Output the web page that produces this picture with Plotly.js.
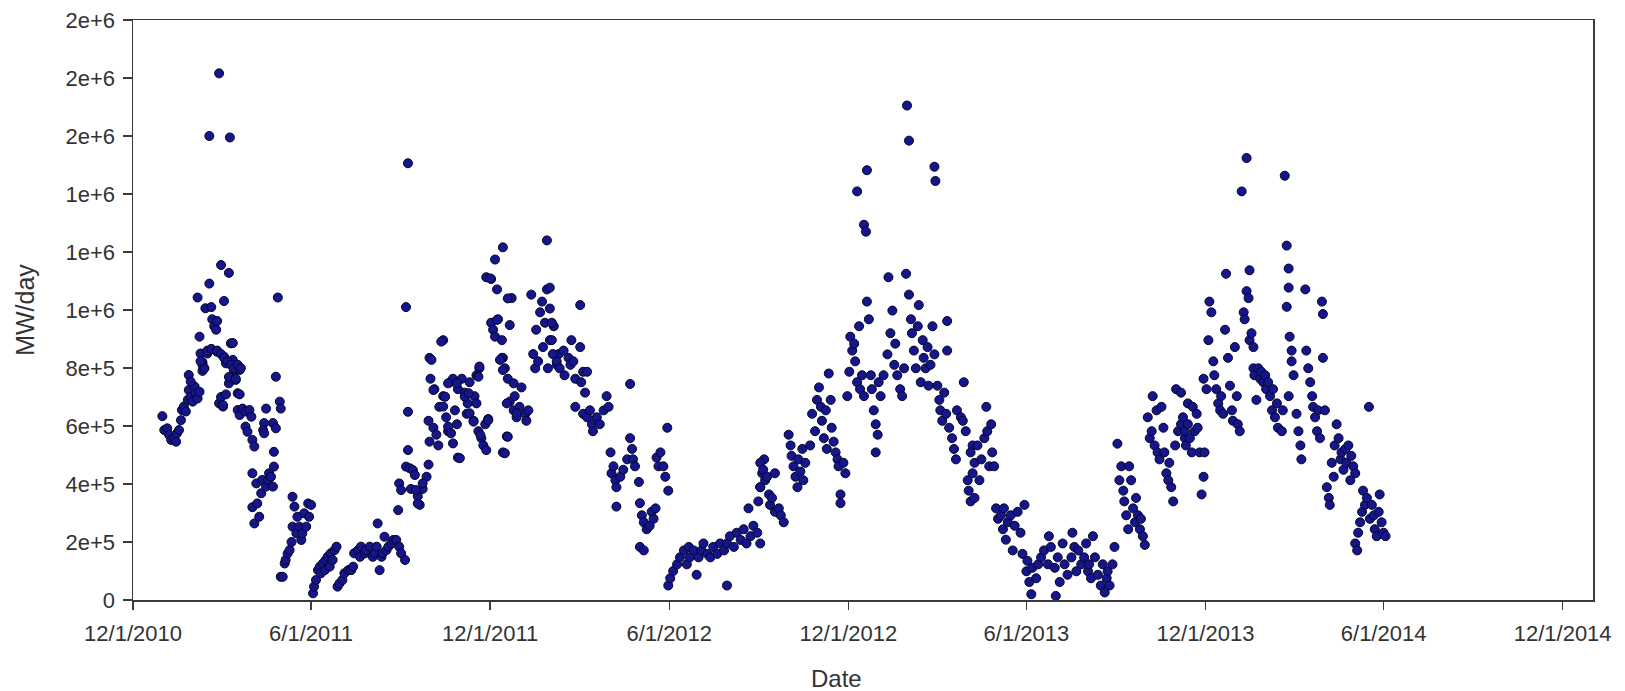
<!DOCTYPE html>
<html>
<head>
<meta charset="utf-8">
<script src="https://cdn.plot.ly/plotly-3.0.1.min.js"></script>
<style>
  html, body { margin: 0; padding: 0; background: #ffffff; }
  #chart { width: 1625px; height: 691px; }
</style>
</head>
<body>
<div id="chart"></div>
<script>
// Day offsets are counted from the axis origin date 12/1/2010; values are MW/day.
const START_DATE = '2010-12-01';

// Winter/spring 2011 through summer 2011
const daysA = [30,32,35,37,39,42,44,45,47,49,50,52,54,56,57,59,61,63,64,57,59,66,68,69,71,72,71,76,78,86,88,92,90,93,95,98,100,102,103,105,107,109,110,107,109,112,115,119,121,115,117,122,124,122,126,122,127,124,129,131,132,136,138,139,141,143,144,136,134,133,134,143,146,144,146,150,151,151,153,155,156,158,160,162,163,165,163,167,168,170,172,173,175,177,179,180,182,184,185,187,189,191,192,194,196,197,199,201,202,204,206,208,209,211,214,216,220,223,225,226,230,232,233,237,238,242,245,247,249,250,252,254,255,257,259,261,264,266,269,271,272,274,278,272,274,281,281,279,283,286];
const valsA = [6.34e5,5.86e5,5.92e5,5.69e5,5.52e5,5.57e5,5.46e5,5.75e5,5.86e5,6.2e5,6.55e5,6.67e5,6.5e5,6.9e5,7.24e5,7.0e5,6.84e5,7.36e5,7.13e5,7.76e5,7.53e5,6.95e5,7.18e5,8.5e5,8.2e5,8.0e5,7.9e5,8.5e5,8.6e5,8.56e5,6.78e5,6.67e5,7.0e5,8.39e5,8.16e5,7.47e5,8.85e5,8.28e5,7.93e5,7.59e5,7.13e5,7.93e5,7.99e5,6.55e5,6.38e5,6.6e5,6.5e5,6.55e5,6.32e5,5.98e5,5.8e5,5.52e5,5.29e5,4.37e5,4.02e5,3.2e5,3.33e5,2.64e5,2.87e5,3.68e5,4.14e5,3.91e5,4.14e5,4.37e5,4.25e5,3.91e5,4.6e5,6.6e5,6.1e5,5.86e5,5.75e5,6.1e5,5.92e5,5.11e5,7.7e5,6.84e5,6.6e5,0.8e5,0.8e5,1.26e5,1.38e5,1.6e5,1.72e5,2.0e5,3.56e5,3.22e5,2.53e5,2.3e5,2.87e5,2.53e5,2.07e5,2.3e5,2.99e5,2.53e5,3.33e5,2.87e5,3.28e5,0.23e5,0.46e5,0.69e5,1.03e5,1.15e5,0.92e5,1.26e5,1.03e5,1.38e5,1.49e5,1.15e5,1.61e5,1.38e5,1.72e5,1.84e5,0.46e5,0.57e5,0.69e5,0.92e5,1.03e5,1.03e5,1.15e5,1.61e5,1.72e5,1.49e5,1.84e5,1.61e5,1.72e5,1.84e5,1.49e5,1.61e5,1.84e5,2.64e5,1.03e5,1.49e5,1.61e5,2.18e5,1.72e5,1.84e5,1.95e5,2.07e5,2.07e5,3.1e5,1.84e5,1.61e5,1.38e5,4.02e5,3.79e5,6.49e5,5.17e5,4.6e5,4.54e5,4.48e5];

// High readings of early 2011
const daysB = [88,78,99,90,98,78,66,148,74,93,80,81,83,85,86,68,102,76,80,71,73,69,86,90,93,97,100,103,107,110,98,105,95,92,109];
const valsB = [18.16e5,16.0e5,15.95e5,11.55e5,11.28e5,10.91e5,10.43e5,10.43e5,10.06e5,10.31e5,10.1e5,9.68e5,9.44e5,9.32e5,9.62e5,9.08e5,8.86e5,8.6e5,8.66e5,8.11e5,7.99e5,8.23e5,8.6e5,8.48e5,8.35e5,8.23e5,8.11e5,7.99e5,8.11e5,7.99e5,7.69e5,7.63e5,7.09e5,6.72e5,7.09e5];

// Autumn 2011 to early 2012
const daysC = [279,281,284,288,291,293,296,300,302,303,303,304,308,317,302,307,310,312,313,317,320,322,324,327,329,331,332,332,336,339,341,342,344,348,349,351,353,354,356,358,360,363,361,366,370,372,378,366,368,370,373,377,378,380,383,377,378,382,385,387,389,390,392,395,397,401,402,404,407,409,411,412,414,416,418,419,421,423,423,424,426,430,433,435,
  289,291,296,305,307,315,317,319,322,322,325,327,331,334,339,343,344,348,351,353,354,355,361,363,365,372,375,378,383,385,382,383,380,389,392];
const valsC = [10.1e5,15.06e5,3.83e5,4.31e5,3.58e5,3.28e5,3.83e5,4.25e5,4.67e5,5.46e5,8.35e5,7.63e5,7.27e5,8.96e5,6.18e5,5.94e5,5.7e5,5.33e5,6.66e5,7.03e5,6.3e5,5.82e5,7.51e5,7.63e5,6.54e5,6.06e5,4.91e5,7.27e5,7.63e5,7.15e5,6.42e5,6.78e5,7.51e5,6.18e5,7.03e5,7.75e5,5.82e5,7.99e5,5.58e5,5.33e5,6.06e5,6.24e5,11.13e5,11.07e5,11.74e5,10.71e5,12.16e5,9.56e5,9.32e5,9.08e5,9.68e5,8.96e5,8.35e5,7.99e5,7.63e5,8.35e5,5.09e5,5.64e5,6.84e5,10.41e5,6.54e5,7.03e5,6.3e5,6.66e5,7.33e5,6.42e5,6.18e5,6.54e5,10.53e5,8.48e5,7.99e5,9.32e5,8.23e5,9.92e5,10.29e5,8.72e5,9.56e5,12.4e5,10.71e5,7.99e5,8.96e5,9.44e5,8.11e5,8.48e5,
  3.79e5,3.33e5,4.02e5,8.28e5,7.24e5,8.91e5,6.67e5,7.01e5,7.47e5,5.98e5,5.75e5,5.4e5,7.47e5,4.89e5,7.01e5,7.13e5,6.44e5,6.15e5,6.78e5,7.7e5,8.05e5,5.69e5,5.17e5,6.2e5,11.09e5,9.66e5,8.28e5,7.93e5,10.4e5,9.48e5,6.78e5,5.63e5,5.06e5,7.47e5,6.44e5];

// Spring and summer 2012
const daysD = [426,426,428,428,429,433,436,440,441,445,447,448,450,452,457,457,458,460,462,464,452,460,464,467,469,470,474,477,481,484,486,508,488,489,491,493,494,494,498,501,505,508,510,511,513,517,518,520,522,525,528,530,532,534,518,522,535,537,539,542,544,546,547,547,549,552,556,559,563,566,568,569,573,576,578,581,583,587,590,593,597,600,604,607,607,610,614,617,621,624,627,629,631,634,638,639,641,643,645,646];
const valsD = [10.77e5,10.05e5,9.56e5,8.96e5,8.48e5,8.23e5,7.99e5,8.6e5,7.75e5,8.35e5,8.11e5,8.96e5,8.23e5,7.63e5,10.17e5,8.72e5,7.51e5,7.87e5,7.15e5,7.87e5,6.66e5,6.42e5,6.3e5,6.54e5,6.06e5,5.82e5,6.3e5,6.06e5,6.54e5,7.03e5,6.66e5,7.45e5,5.09e5,4.37e5,4.61e5,4.13e5,3.89e5,3.22e5,4.25e5,4.49e5,4.85e5,5.58e5,5.21e5,4.85e5,4.61e5,4.07e5,3.34e5,2.92e5,2.68e5,2.44e5,2.56e5,3.04e5,2.8e5,3.16e5,1.83e5,1.71e5,4.91e5,4.61e5,5.09e5,4.61e5,4.25e5,5.94e5,3.77e5,0.5e5,0.75e5,1.0e5,1.23e5,1.47e5,1.71e5,1.23e5,1.83e5,1.47e5,1.71e5,0.87e5,1.47e5,1.71e5,1.95e5,1.59e5,1.47e5,1.83e5,1.59e5,1.95e5,1.71e5,0.5e5,1.95e5,2.2e5,1.83e5,2.32e5,2.07e5,2.44e5,1.95e5,3.16e5,2.2e5,2.56e5,2.32e5,3.4e5,3.89e5,4.37e5,4.85e5,4.13e5];

// Autumn 2012 to spring 2013
const daysE = [641,641,641,644,648,650,651,653,656,660,662,665,656,670,672,673,675,677,679,680,682,684,685,687,692,694,697,699,701,703,704,706,708,709,711,713,714,716,718,720,721,723,723,726,728,730,732,733,735,737,738,740,742,743,745,747,740,747,749,750,750,752,754,755,757,759,761,759,762,764,767,771,772,774,776,778,779,781,784,786,788,790,791,793,793,795,796,798,800,802,803,805,807,808,810,812,813,815,817,819,820,819,822,824,825,827,829,831,832,832,834,837,839,841,842,846,848,849,851,853,854,856,858,860,863,865];
const valsE = [4.73e5,3.89e5,1.95e5,4.49e5,4.25e5,3.64e5,3.28e5,3.52e5,3.04e5,3.16e5,2.92e5,2.68e5,4.37e5,5.7e5,5.33e5,4.97e5,4.61e5,4.25e5,3.89e5,4.85e5,4.43e5,5.21e5,4.13e5,4.73e5,5.33e5,6.42e5,5.82e5,6.9e5,7.33e5,6.66e5,6.18e5,5.58e5,6.54e5,5.21e5,7.81e5,6.9e5,5.94e5,5.46e5,5.09e5,4.85e5,4.61e5,3.64e5,3.34e5,4.73e5,4.37e5,7.03e5,7.87e5,9.08e5,8.6e5,8.84e5,8.23e5,7.51e5,9.44e5,7.27e5,7.75e5,7.03e5,14.09e5,12.94e5,12.7e5,14.82e5,10.29e5,9.68e5,7.75e5,7.27e5,6.54e5,6.06e5,5.7e5,5.09e5,7.51e5,7.03e5,7.75e5,8.47e5,11.13e5,9.2e5,9.98e5,8.11e5,8.84e5,7.75e5,7.27e5,7.03e5,7.99e5,11.25e5,17.05e5,15.84e5,10.53e5,9.68e5,9.2e5,8.6e5,7.99e5,9.44e5,10.17e5,7.51e5,8.96e5,8.35e5,7.99e5,8.72e5,7.39e5,8.11e5,9.44e5,14.94e5,14.45e5,8.47e5,7.39e5,6.9e5,6.54e5,6.18e5,7.15e5,6.42e5,9.62e5,8.6e5,5.94e5,5.58e5,5.21e5,4.85e5,6.54e5,6.3e5,6.18e5,7.51e5,5.82e5,4.13e5,3.77e5,3.4e5,5.33e5,4.73e5,5.33e5,4.13e5];

// Spring 2013 to autumn 2013
const daysF = [856,858,860,867,870,872,873,875,877,878,880,882,884,887,889,890,892,894,897,899,901,904,907,909,911,913,914,916,918,919,923,925,928,931,935,936,938,942,943,945,947,950,952,955,959,960,962,964,966,969,972,974,976,977,979,981,983,986,989,991,993,995,996,998,1001,1003,1006,1008,1010,1012,1013,1015,1017,1018,1020,1022,1024,1025,1027,1029,1030,1032,1034,1037,1039,1041,1042,1044,1046,1047,1049,1051,1053,1054,1056,1058,1059,1061,1063,1065,1066,1068,1071,1075,1078];
const valsF = [5.09e5,4.37e5,3.52e5,4.85e5,5.58e5,6.66e5,5.82e5,4.61e5,6.06e5,5.09e5,4.61e5,3.16e5,2.8e5,2.92e5,2.44e5,3.16e5,2.08e5,2.68e5,2.92e5,1.71e5,2.56e5,3.04e5,2.32e5,1.59e5,3.28e5,0.99e5,1.35e5,0.62e5,0.2e5,1.11e5,0.75e5,1.23e5,1.47e5,1.71e5,1.23e5,2.2e5,1.83e5,1.11e5,0.14e5,1.47e5,0.62e5,1.95e5,1.23e5,0.87e5,1.47e5,2.32e5,1.83e5,0.99e5,1.71e5,1.23e5,1.47e5,1.95e5,0.99e5,1.23e5,0.75e5,2.2e5,1.47e5,0.87e5,0.5e5,1.23e5,0.26e5,0.75e5,0.99e5,0.5e5,1.23e5,1.83e5,5.39e5,4.13e5,4.61e5,3.77e5,3.4e5,2.92e5,2.44e5,4.61e5,4.13e5,3.16e5,2.68e5,3.52e5,2.92e5,2.44e5,2.8e5,2.2e5,1.9e5,6.3e5,5.58e5,5.82e5,7.03e5,5.33e5,6.54e5,5.09e5,4.85e5,6.66e5,5.94e5,5.09e5,4.37e5,4.13e5,4.73e5,3.89e5,3.4e5,5.33e5,7.27e5,5.82e5,6.06e5,5.58e5,6.78e5];

// Winter 2013-2014 to spring 2014
const daysG = [1071,1073,1075,1076,1078,1080,1082,1083,1085,1087,1088,1090,1092,1094,1095,1094,1097,1099,1100,1102,1104,1105,1107,1109,1111,1112,1114,1116,1117,1119,1121,1123,1124,1126,1128,1129,1131,1133,1135,1136,1138,1138,1140,1141,1141,1143,1145,1145,1146,1148,1150,1152,1153,1155,1157,1158,1160,1162,1164,1165,1167,1169,1170,1174,1175,1177,1179,1181,1181,1179,1182,1184,1184,1186,1181,1189,1191,1193,1194,1198,1199,1201,1203,1205,1206,1208,1210,1211,1213,1215,1216,1216,1218,1220,1222,1223,1225,1227,1228,1230,1232,1234,1235,1237,1239,1240,1242,1244,1245,1247,1249,1249,1251,1252,1254,1256,1257,1259,1261,1263,1264,1266,1268,1269,1271,1273,1274,1276,1278,1280];
const valsG = [7.15e5,6.3e5,5.82e5,5.33e5,6.06e5,5.58e5,5.09e5,6.66e5,5.82e5,6.42e5,5.94e5,5.09e5,3.64e5,4.25e5,5.09e5,7.63e5,7.27e5,8.96e5,10.29e5,9.92e5,8.23e5,7.75e5,7.27e5,6.78e5,6.54e5,7.03e5,6.42e5,9.32e5,11.25e5,8.35e5,7.39e5,6.54e5,6.18e5,8.72e5,7.03e5,6.06e5,5.82e5,14.09e5,9.92e5,9.68e5,15.24e5,10.65e5,10.41e5,11.37e5,8.96e5,9.2e5,8.72e5,7.99e5,7.75e5,6.9e5,7.99e5,7.63e5,7.87e5,7.51e5,7.75e5,7.27e5,7.51e5,7.03e5,6.54e5,7.27e5,6.3e5,6.78e5,5.94e5,5.82e5,6.54e5,14.63e5,12.22e5,11.43e5,10.77e5,10.11e5,9.08e5,8.6e5,8.23e5,7.75e5,7.03e5,6.42e5,5.82e5,5.33e5,4.85e5,10.71e5,8.6e5,7.99e5,7.51e5,7.03e5,6.66e5,6.3e5,5.82e5,6.54e5,5.58e5,10.29e5,9.86e5,8.35e5,6.54e5,3.89e5,3.52e5,3.28e5,4.73e5,4.25e5,5.33e5,6.06e5,5.58e5,4.85e5,5.09e5,4.49e5,5.21e5,4.73e5,5.33e5,4.13e5,4.97e5,4.61e5,4.37e5,1.95e5,1.71e5,2.32e5,2.68e5,3.04e5,3.77e5,3.28e5,3.52e5,6.66e5,2.8e5,3.28e5,2.92e5,2.44e5,2.2e5,3.04e5,3.64e5,2.68e5,2.32e5,2.2e5];

// Axis ticks
const xTickDates = ['2010-12-01','2011-06-01','2011-12-01','2012-06-01','2012-12-01','2013-06-01','2013-12-01','2014-06-01','2014-12-01'];
const xTickLabels = ['12/1/2010','6/1/2011','12/1/2011','6/1/2012','12/1/2012','6/1/2013','12/1/2013','6/1/2014','12/1/2014'];
const yTickValues = [0,2e5,4e5,6e5,8e5,10e5,12e5,14e5,16e5,18e5,20e5];
const yTickLabels = ['0','2e+5','4e+5','6e+5','8e+5','1e+6','1e+6','1e+6','2e+6','2e+6','2e+6'];

const allDays = [].concat(daysA, daysB, daysC, daysD, daysE, daysF, daysG);
const allVals = [].concat(valsA, valsB, valsC, valsD, valsE, valsF, valsG);

const startMs = Date.parse(START_DATE + 'T00:00:00Z');
const xDates = allDays.map(d => new Date(startMs + d * 86400000).toISOString().slice(0, 10));

const FONT = 'Liberation Sans, Arial, Helvetica, sans-serif';
const AX = '#3a3a3a';

const trace = {
  type: 'scatter',
  mode: 'markers',
  x: xDates,
  y: allVals,
  marker: {
    size: 9,
    color: '#15158c',
    line: { color: '#05052a', width: 1 }
  },
  hoverinfo: 'x+y'
};

const layout = {
  width: 1625,
  height: 691,
  margin: { l: 133, r: 32, t: 20, b: 91 },
  paper_bgcolor: '#ffffff',
  plot_bgcolor: '#ffffff',
  showlegend: false,
  font: { family: FONT, color: '#333333' },
  xaxis: {
    type: 'date',
    range: ['2010-12-01', '2015-01-01'],
    tickmode: 'array',
    tickvals: xTickDates,
    ticktext: xTickLabels,
    ticks: 'outside',
    ticklen: 8,
    tickwidth: 1.5,
    tickcolor: AX,
    showline: true,
    linecolor: AX,
    linewidth: 1.5,
    mirror: true,
    showgrid: false,
    zeroline: false,
    tickfont: { family: FONT, size: 22, color: '#333333' },
    ticklabelstandoff: 5
  },
  yaxis: {
    range: [0, 2e6],
    tickmode: 'array',
    tickvals: yTickValues,
    ticktext: yTickLabels,
    ticks: 'outside',
    ticklen: 9,
    tickwidth: 1.5,
    tickcolor: AX,
    showline: true,
    linecolor: AX,
    linewidth: 1.5,
    mirror: true,
    showgrid: false,
    zeroline: false,
    tickfont: { family: FONT, size: 22, color: '#333333' },
    ticklabelstandoff: 3,
    title: { text: 'MW/day', font: { family: FONT, size: 25, color: '#333333' }, standoff: 24 }
  },
  annotations: [{
    text: 'Date',
    xref: 'paper', yref: 'paper',
    x: 0.482, y: -0.136,
    xanchor: 'center', yanchor: 'middle',
    showarrow: false,
    font: { family: FONT, size: 24, color: '#333333' }
  }]
};

Plotly.newPlot('chart', [trace], layout, { displayModeBar: false, staticPlot: true });
</script>
</body>
</html>
